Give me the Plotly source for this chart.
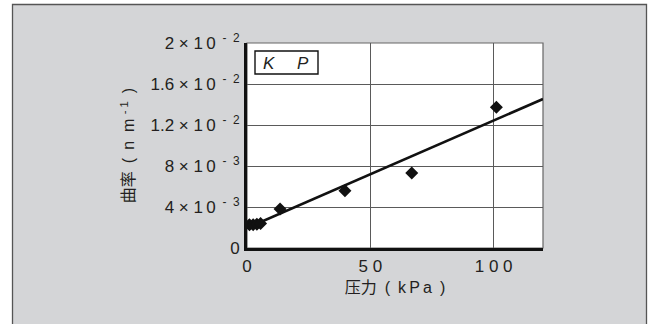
import plotly.graph_objects as go

# ---- data ----
pressure_kpa = [1.0, 2.5, 4.0, 5.5, 13.4, 39.7, 66.8, 101.1]
curvature = [0.00228, 0.00228, 0.00232, 0.00238, 0.0038, 0.00559, 0.00732, 0.01373]

trend_x = [3.0, 120.0]
trend_y = [0.00226, 0.01454]

NB = "\u00a0"
TH = "\u2009"
EN = "\u2002"
x_tickvals = [0, 50, 100]
x_ticktext = ["0", f"5{NB}0", f"1{NB}0{NB}0"]

y_tickvals = [0, 0.004, 0.008, 0.012, 0.016, 0.020]
SUP = "<sup>{NB}{NB}-{NB}{NB}{e}</sup>"
y_ticktext = [
    "0",
    f"4{NB}×{NB}1{TH}0" + SUP.format(NB=NB, e="3"),
    f"8{NB}×{NB}1{TH}0" + SUP.format(NB=NB, e="3"),
    f"1.2{NB}×{NB}1{TH}0" + SUP.format(NB=NB, e="2"),
    f"1.6{NB}×{NB}1{TH}0" + SUP.format(NB=NB, e="2"),
    f"2{NB}×{NB}1{TH}0" + SUP.format(NB=NB, e="2"),
]

FONT = "Liberation Sans, Arial, Noto Sans CJK SC, sans-serif"
TXT = "#231f20"

fig = go.Figure()

fig.add_trace(go.Scatter(
    x=trend_x, y=trend_y, mode="lines",
    line=dict(color="#111111", width=2.6),
    showlegend=False, hoverinfo="skip",
))
fig.add_trace(go.Scatter(
    x=pressure_kpa, y=curvature, mode="markers",
    marker=dict(symbol="diamond", size=10, color="#111111"),
    showlegend=False, cliponaxis=True,
))

W, H = 653, 324
L, R, T, B = 247, 110, 43, 76
pw, ph = W - L - R, H - T - B

def px(xp):
    return (xp - L) / pw

def py(yp):
    return (H - B - yp) / ph

shapes = [
    dict(type="rect", xref="paper", yref="paper",
         x0=px(12.5), x1=px(646.5), y0=py(340), y1=py(4.5),
         fillcolor="#d4d5d7", line=dict(color="#555555", width=1.3), layer="below"),
    dict(type="rect", xref="paper", yref="paper",
         x0=0, x1=1, y0=0, y1=1,
         fillcolor="white", line=dict(color="#666666", width=1.2), layer="below"),
    dict(type="rect", xref="paper", yref="paper",
         x0=px(255), x1=px(318), y0=py(74), y1=py(51),
         fillcolor="white", line=dict(color="#111111", width=1.4), layer="above"),
]

annotations = [
    dict(text="<i>K</i>", xref="paper", yref="paper", x=px(269), y=py(63),
         xanchor="center", yanchor="middle",
         showarrow=False, font=dict(family=FONT, size=17, color=TXT)),
    dict(text="<i>P</i>", xref="paper", yref="paper", x=px(303), y=py(63),
         xanchor="center", yanchor="middle",
         showarrow=False, font=dict(family=FONT, size=17, color=TXT)),
]

fig.update_layout(
    width=W, height=H,
    margin=dict(l=L, r=R, t=T, b=B, pad=0),
    paper_bgcolor="white",
    plot_bgcolor="rgba(0,0,0,0)",
    font=dict(family=FONT, size=16, color=TXT),
    shapes=shapes,
    annotations=annotations,
    showlegend=False,
    xaxis=dict(
        range=[0, 120], tickvals=x_tickvals, ticktext=x_ticktext,
        showgrid=True, gridcolor="#5a5a5a", gridwidth=1.2,
        zeroline=False, showline=True, linecolor="#111111", linewidth=3,
        ticks="", ticklabelstandoff=1,
        tickfont=dict(family=FONT, size=17, color=TXT),
        title=dict(text=f"压力{EN}({EN}k{TH}P{TH}a{EN})", standoff=7,
                   font=dict(family=FONT, size=16, color=TXT)),
        fixedrange=True,
    ),
    yaxis=dict(
        range=[0, 0.02], tickvals=y_tickvals, ticktext=y_ticktext,
        showgrid=True, gridcolor="#5a5a5a", gridwidth=1.2,
        zeroline=False, showline=True, linecolor="#111111", linewidth=3,
        ticks="", ticklabelstandoff=1,
        tickfont=dict(family=FONT, size=17, color=TXT),
        title=dict(text=f"曲率{EN}({EN}n{NB}{NB}m{NB}<sup>-{NB}1</sup>{EN})", standoff=12,
                   font=dict(family=FONT, size=16, color=TXT)),
        fixedrange=True,
    ),
)

fig.write_html("out.html", config={"displayModeBar": False},
               post_script="document.body.style.margin='0';")
